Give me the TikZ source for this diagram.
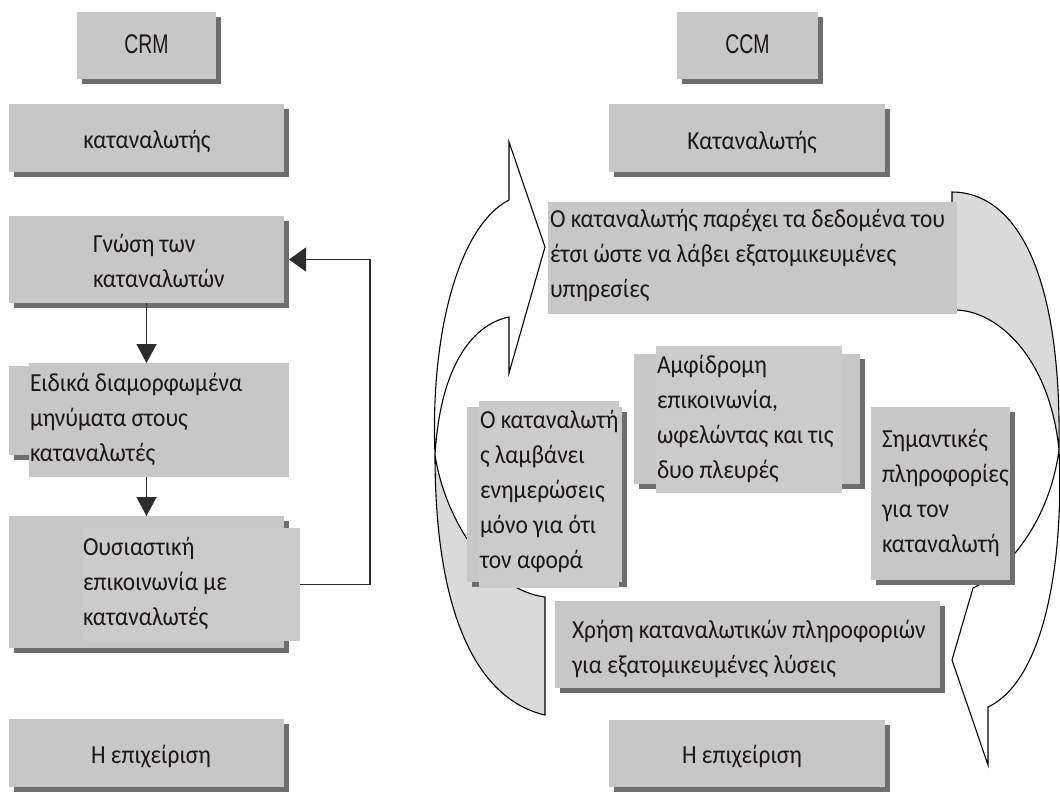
\documentclass[tikz,border=0pt]{standalone}
\usepackage{fontspec}
\setmainfont{Carlito}[FakeStretch=0.9]
\newfontfamily\narrowfont[FakeStretch=0.72]{Liberation Sans}
\usetikzlibrary{arrows.meta,shadows}
\definecolor{boxgray}{RGB}{199,199,199}
\definecolor{frontgray}{RGB}{203,203,203}
\definecolor{shadegray}{RGB}{110,110,110}
\definecolor{bandgray}{RGB}{218,218,218}
\definecolor{inkc}{RGB}{28,22,22}
\definecolor{linkc}{RGB}{45,45,45}
% a left-aligned stack of lines whose baseline is the first line's
\newcommand\lines[1]{\vtop{\halign{##\hfil\cr#1\crcr}}}

\begin{document}
\begin{tikzpicture}[x=1pt,y=-1pt,
  box/.style={fill=boxgray, draw=none, inner sep=0pt, outer sep=0pt,
    drop shadow={shadow xshift=5pt, shadow yshift=-5pt, fill=shadegray, opacity=1}},
  flat/.style={fill=frontgray, draw=none, inner sep=0pt, outer sep=0pt},
  txt/.style={inner sep=0pt, outer sep=0pt, anchor=base west, text=inkc,
    font=\fontsize{26}{35}\selectfont},
  ctxt/.style={txt, anchor=base},
  title/.style={inner sep=0pt, anchor=base, text=inkc,
    font=\narrowfont\fontsize{27}{30}\selectfont},
  link/.style={draw=linkc, line width=1.4pt, -{Triangle[length=19pt,width=20pt]}},
  bandfill/.style={draw=black, line width=1.1pt, fill=bandgray, line join=miter},
  bandwhite/.style={draw=black, line width=1.1pt, fill=white, line join=miter},
  ]
\fill[white] (0,0) rectangle (1060,793);
\useasboundingbox (0,0) rectangle (1060,793);

% ---------- curved arrows of the CCM cycle (behind the boxes) ----------
% left arrow: shaded lower part
\path[bandfill] (435,455) .. controls (435,620) and (480,700) .. (545,715)
  -- (545,597) .. controls (490,590) and (445,520) .. (435,455) -- cycle;
% left arrow: upper part with the head pointing up
\path[bandwhite] (509,142) -- (545,247) -- (509,373) -- (509,317)
  .. controls (470,325) and (440,370) .. (435,455)
  .. controls (430,330) and (460,225) .. (509,200) -- cycle;
% right arrow: shaded upper part
\path[bandfill] (952,310) -- (952,192)
  .. controls (1010,192) and (1062,260) .. (1059,450)
  .. controls (1050,360) and (1000,312) .. (957,310) -- cycle;
% right arrow: lower part with the head pointing down
\path[bandwhite] (1059,450) .. controls (1064,560) and (1045,680) .. (988,707)
  -- (988,765) -- (952,660) -- (973,588)
  .. controls (1000,575) and (1048,530) .. (1059,450) -- cycle;

% ---------- CRM column ----------
\node[box, minimum width=139pt, minimum height=67pt] (crm) at (146.5,45.5) {};
\node[title] (crm-t) at (146.5,53) {CRM};

\node[box, minimum width=275pt, minimum height=68pt] (kat1) at (146.5,138) {};
\node[ctxt] (kat1-t) at (147,148) {καταναλωτής};

\node[box, minimum width=275pt, minimum height=87pt] (gnosi) at (146.5,259.5) {};
\node[txt] (gnosi-t) at (93,252) {\lines{Γνώση των\cr καταναλωτών}};

\node[box, minimum width=275pt, minimum height=89pt] (eidikaB) at (146.5,410.5) {};
\node[flat, fill=boxgray, minimum width=260pt, minimum height=114pt] (eidika) at (159,420) {};
\node[txt] (eidika-t) at (30,391) {\lines{Ειδικά διαμορφωμένα\cr μηνύματα στους\cr καταναλωτές}};

\node[box, minimum width=275pt, minimum height=132pt] (ousiaB) at (146.5,582) {};
\node[flat, minimum width=217pt, minimum height=113pt] (ousia) at (191.5,584.5) {};
\node[txt] (ousia-t) at (83,555) {\lines{Ουσιαστική\cr επικοινωνία με\cr καταναλωτές}};

\node[box, minimum width=275pt, minimum height=68pt] (epix1) at (146.5,753) {};
\node[ctxt] (epix1-t) at (151,763) {Η επιχείριση};

\coordinate (fb) at (370,584.5);
\draw[link] (gnosi.south) -- (gnosi.south |- eidika.north);
\draw[link] (eidika.south -| ousiaB.north) -- (ousiaB.north);
\draw[draw=linkc, line width=1.4pt, -{Triangle[length=17pt,width=24pt]}]
  (ousia.east) -- (fb) |- ([xshift=5pt]gnosi.east);

% ---------- CCM column ----------
\node[box, minimum width=141pt, minimum height=67pt] (ccm) at (747.5,45.5) {};
\node[title] (ccm-t) at (747.5,53) {CCM};

\node[box, minimum width=276pt, minimum height=68pt] (kat2) at (747,138) {};
\node[ctxt] (kat2-t) at (752,149) {Καταναλωτής};

\node[flat, fill=boxgray, minimum width=409pt, minimum height=112pt] (data) at (752.5,258) {};
\node[txt] (data-t) at (550,227) {\lines{Ο καταναλωτής παρέχει τα δεδομένα του\cr
  έτσι ώστε να λάβει εξατομικευμένες\cr υπηρεσίες}};

\node[box, minimum width=155pt, minimum height=175pt] (okatB) at (544.5,494.5) {};
\node[flat, minimum width=140pt, minimum height=187pt] (okat) at (549,494.5) {};
\node[txt] (okat-t) at (480,428) {\lines{Ο καταναλωτή\cr ς λαμβάνει\cr ενημερώσεις\cr
  μόνο για ότι\cr τον αφορά}};

\node[box, minimum width=226pt, minimum height=130pt] (amfiB) at (747,419) {};
\node[flat, minimum width=186pt, minimum height=147pt] (amfi) at (749,419.5) {};
\node[txt] (amfi-t) at (657,373) {\lines{Αμφίδρομη\cr επικοινωνία,\cr ωφελώντας και τις\cr
  δυο πλευρές}};

\node[box, minimum width=139pt, minimum height=173pt] (simant) at (940.5,493.5) {};
\node[txt] (simant-t) at (882,447) {\lines{Σημαντικές\cr πληροφορίες\cr για τον\cr καταναλωτή}};

\node[box, minimum width=385pt, minimum height=87pt] (xrisi) at (747.5,644.5) {};
\node[txt] (xrisi-t) at (572,638) {\lines{Χρήση καταναλωτικών πληροφοριών\cr
  για εξατομικευμένες λύσεις}};

\node[box, minimum width=276pt, minimum height=67pt] (epix2) at (747,753.5) {};
\node[ctxt] (epix2-t) at (742,763) {Η επιχείριση};
\end{tikzpicture}
\end{document}
